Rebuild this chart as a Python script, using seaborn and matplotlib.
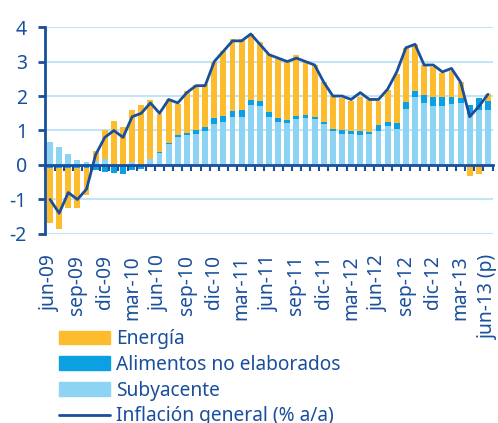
import numpy as np
import pandas as pd
import matplotlib
matplotlib.use("Agg")
import matplotlib.pyplot as plt
from matplotlib.patches import Patch
from matplotlib.lines import Line2D
import seaborn as sns

# Meses (jun-09 a jun-13)
meses = ["jun-09", "jul-09", "ago-09", "sep-09", "oct-09", "nov-09", "dic-09",
         "ene-10", "feb-10", "mar-10", "abr-10", "may-10", "jun-10", "jul-10",
         "ago-10", "sep-10", "oct-10", "nov-10", "dic-10", "ene-11", "feb-11",
         "mar-11", "abr-11", "may-11", "jun-11", "jul-11", "ago-11", "sep-11",
         "oct-11", "nov-11", "dic-11", "ene-12", "feb-12", "mar-12", "abr-12",
         "may-12", "jun-12", "jul-12", "ago-12", "sep-12", "oct-12", "nov-12",
         "dic-12", "ene-13", "feb-13", "mar-13", "abr-13", "may-13", "jun-13 (p)"]

# Contribuciones (pp)
subyacente = [0.67, 0.52, 0.33, 0.14, 0.10, 0.12, 0.18, 0.03, 0.00, 0.10,
              0.02, 0.17, 0.35, 0.60, 0.80, 0.86, 0.89, 0.99, 1.20, 1.25,
              1.39, 1.39, 1.73, 1.70, 1.39, 1.25, 1.22, 1.32, 1.37, 1.32,
              1.18, 0.99, 0.89, 0.89, 0.86, 0.89, 0.99, 1.12, 1.05, 1.63,
              1.97, 1.80, 1.70, 1.70, 1.76, 1.80, 1.47, 1.60, 1.60]
alimentos = [-0.10, -0.10, -0.10, -0.10, -0.10, -0.15, -0.20, -0.22, -0.25, -0.15,
             -0.12, -0.05, 0.03, 0.05, 0.06, 0.07, 0.11, 0.11, 0.16, 0.16,
             0.19, 0.21, 0.16, 0.17, 0.15, 0.11, 0.09, 0.10, 0.08, 0.07,
             0.08, 0.06, 0.12, 0.10, 0.13, 0.07, 0.16, 0.13, 0.17, 0.20,
             0.17, 0.22, 0.27, 0.27, 0.21, 0.15, 0.27, 0.35, 0.25]
energia = [-1.57, -1.75, -1.15, -1.15, -0.78, 0.28, 0.82, 1.24, 1.10, 1.50,
           1.72, 1.72, 1.10, 1.25, 0.92, 1.23, 1.33, 1.26, 1.62, 1.91,
           2.06, 2.04, 1.91, 1.69, 1.69, 1.72, 1.67, 1.76, 1.58, 1.50,
           1.14, 0.94, 0.94, 0.88, 0.98, 0.93, 0.72, 0.93, 1.43, 1.57,
           1.36, 0.89, 0.87, 0.70, 0.77, 0.45, -0.32, -0.27, 0.20]
inflacion = [-1.0, -1.4, -0.8, -1.0, -0.7, 0.3, 0.8, 1.0, 0.8, 1.4,
             1.5, 1.8, 1.5, 1.9, 1.8, 2.1, 2.3, 2.3, 3.0, 3.3,
             3.6, 3.6, 3.8, 3.5, 3.2, 3.1, 3.0, 3.1, 3.0, 2.9,
             2.4, 2.0, 2.0, 1.9, 2.1, 1.9, 1.9, 2.2, 2.7, 3.4,
             3.5, 2.9, 2.9, 2.7, 2.8, 2.4, 1.4, 1.7, 2.05]

tick_labels = ["jun-09", "sep-09", "dic-09", "mar-10", "jun-10", "sep-10",
               "dic-10", "mar-11", "jun-11", "sep-11", "dic-11", "mar-12",
               "jun-12", "sep-12", "dic-12", "mar-13", "jun-13 (p)"]

dark = "#1a4f9c"
grid_color = "#c2e5f6"
colors = {"Subyacente": "#8dd3f3", "Alimentos no elaborados": "#0aa0e2",
          "Energía": "#fdbc2d"}

df = pd.DataFrame({"mes": meses, "Subyacente": subyacente,
                   "Alimentos no elaborados": alimentos, "Energía": energia,
                   "Inflación": inflacion})
df["x"] = np.arange(len(df))

sns.set_theme(style="white")
plt.rcParams["font.family"] = ["Noto Sans", "DejaVu Sans"]
plt.rcParams["axes.unicode_minus"] = False

fig = plt.figure(figsize=(4.98, 4.23), dpi=100)
ax = fig.add_axes([0.0904, 0.447, 0.8996, 0.489])

# Stacked bars (positives up, negatives down)
pos_base = np.zeros(len(df))
neg_base = np.zeros(len(df))
for col in ["Subyacente", "Alimentos no elaborados", "Energía"]:
    v = df[col].to_numpy()
    bottom = np.where(v >= 0, pos_base, neg_base)
    ax.bar(df["x"], v, bottom=bottom, width=0.64, color=colors[col],
           linewidth=0, zorder=2)
    pos_base += np.clip(v, 0, None)
    neg_base += np.clip(v, None, 0)

sns.lineplot(data=df, x="x", y="Inflación", ax=ax, color=dark, linewidth=2,
             zorder=4)

ax.set_xlim(-0.55, 48.55)
ax.set_ylim(-2, 4)
ax.set_yticks(range(-2, 5))
ax.set_xlabel("")
ax.set_ylabel("")

# horizontal grid, behind the bars
for yv in ax.get_yticks():
    ax.axhline(yv, color=grid_color, linewidth=1.5, zorder=1)

for s in ["top", "right"]:
    ax.spines[s].set_visible(False)
ax.spines["left"].set_color(dark)
ax.spines["left"].set_linewidth(2)
ax.tick_params(axis="y", left=True, length=5, width=2, color=dark,
               labelcolor=dark, labelsize=14, pad=8)

# x axis sits on zero; monthly ticks as minor ticks, labels pushed to bottom
ax.spines["bottom"].set_position(("data", 0))
ax.spines["bottom"].set_color(dark)
ax.spines["bottom"].set_linewidth(2)
ax.spines["bottom"].set_zorder(5)
ax.xaxis.set_zorder(5)
ax.set_xticks(range(0, 49, 3))
ax.set_xticklabels(tick_labels)
ax.set_xticks(np.arange(-0.5, 49, 1), minor=True)
ax.tick_params(axis="x", which="major", bottom=True, length=0, rotation=90,
               labelsize=13.8, labelcolor=dark, pad=65)
ax.tick_params(axis="x", which="minor", bottom=True, length=4, width=1.5,
               color=dark, direction="out")

handles = [Patch(color=colors["Energía"], label="Energía"),
           Patch(color=colors["Alimentos no elaborados"], label="Alimentos no elaborados"),
           Patch(color=colors["Subyacente"], label="Subyacente"),
           Line2D([], [], color=dark, linewidth=2, label="Inflación general (% a/a)")]
leg = fig.legend(handles=handles, loc="upper left",
                 bbox_to_anchor=(0.119, 0.222), frameon=False,
                 fontsize=13.8, handlelength=2.65, handletextpad=0.3,
                 labelspacing=0.3, borderpad=0, borderaxespad=0)
for t in leg.get_texts():
    t.set_color(dark)

fig.savefig("out.png", dpi=100)
